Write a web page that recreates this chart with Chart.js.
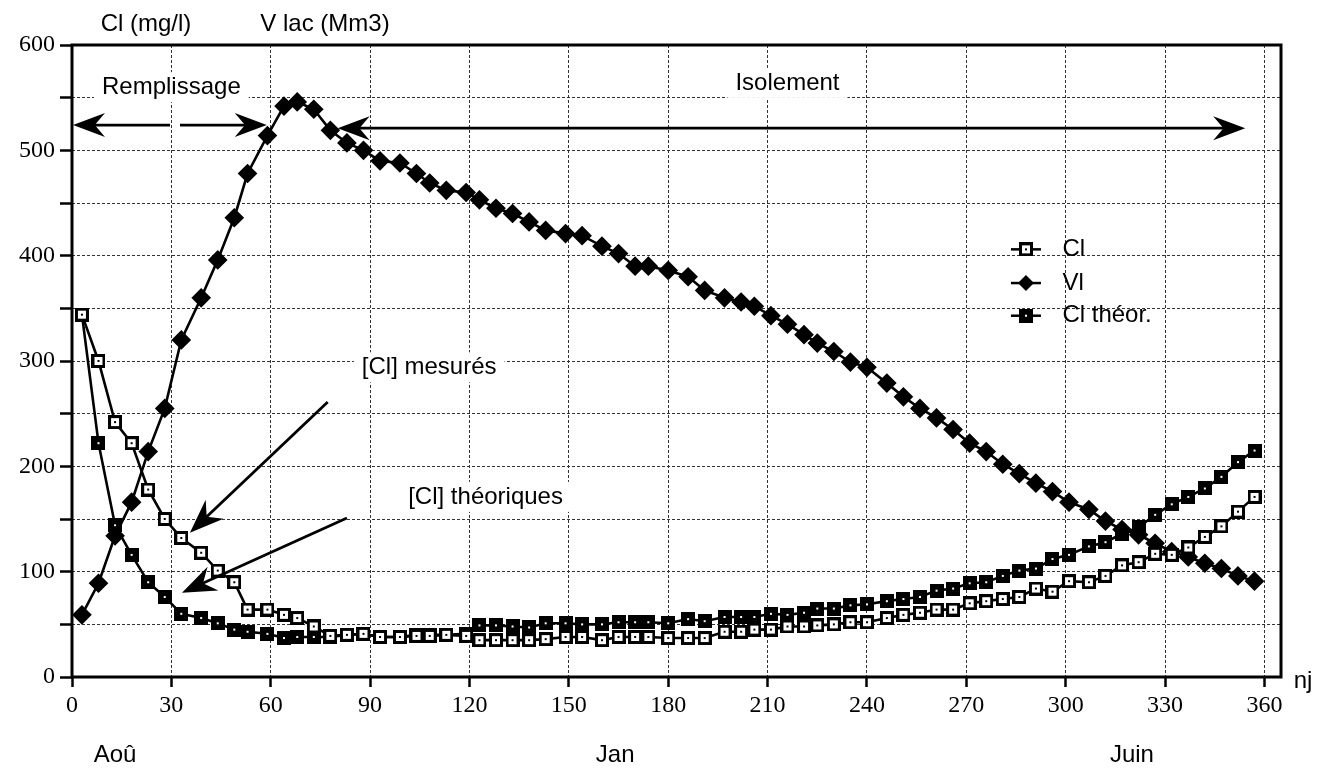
<!DOCTYPE html>
<html>
<head>
<meta charset="utf-8">
<script src="https://cdn.jsdelivr.net/npm/chart.js@4.4.0/dist/chart.umd.min.js"></script>
<style>
  html, body { margin: 0; padding: 0; background: #fff; }
  #wrap { width: 1332px; height: 782px; }
</style>
</head>
<body>
<div id="wrap"><canvas id="lac" width="1332" height="782"></canvas></div>
<script>
// jours depuis le début du remplissage
const days = [3, 8, 13, 18, 23, 28, 33, 39, 44, 49, 53, 59, 64, 68, 73, 78, 83, 88, 93, 99,
  104, 108, 113, 119, 123, 128, 133, 138, 143, 149, 154, 160, 165, 170, 174, 180, 186, 191, 197, 202,
  206, 211, 216, 221, 225, 230, 235, 240, 246, 251, 256, 261, 266, 271, 276, 281, 286, 291, 296, 301,
  307, 312, 317, 322, 327, 332, 337, 342, 347, 352, 357];

// chlorures mesurés (mg/l)
const clMes = [344, 300, 242, 222, 178, 150, 132, 118, 101, 90, 64, 64, 59, 56, 48, 39, 40, 41, 38, 38,
  39, 39, 40, 39, 35, 35, 35, 35, 36, 38, 38, 35, 38, 38, 38, 37, 37, 37, 43, 43,
  45, 45, 48, 48, 49, 50, 52, 52, 56, 59, 61, 64, 64, 70, 72, 74, 76, 84, 81, 91,
  90, 96, 106, 109, 117, 116, 123, 133, 143, 157, 171];

// volume du lac (Mm3)
const vLac = [59, 89, 134, 166, 214, 255, 320, 360, 396, 436, 478, 514, 542, 546, 539, 519, 507, 500, 490, 488,
  478, 469, 462, 460, 453, 445, 440, 432, 424, 421, 419, 409, 402, 390, 390, 386, 380, 367, 360, 356,
  352, 343, 335, 325, 317, 309, 299, 294, 279, 266, 255, 246, 235, 222, 214, 202, 193, 184, 176, 166,
  159, 148, 140, 135, 127, 119, 114, 108, 103, 96, 91];

// chlorures théoriques (mg/l)
const clTheo = [344, 222, 144, 116, 90, 76, 60, 56, 51, 45, 43, 41, 37, 38, 38, 38, 40, 41, 38, 38,
  40, 40, 40, 41, 49, 49, 48, 47, 51, 51, 50, 50, 52, 52, 52, 51, 55, 53, 57, 57,
  57, 60, 59, 61, 65, 65, 68, 69, 72, 74, 76, 82, 84, 89, 90, 96, 101, 103, 112, 116,
  124, 128, 136, 142, 154, 164, 171, 179, 190, 204, 215];

const seriesNames = ['Cl', 'Vl', 'Cl théor.'];
const xTickValues = [0, 30, 60, 90, 120, 150, 180, 210, 240, 270, 300, 330, 360];
const monthNames = ['Aoû', 'Jan', 'Juin'];
const monthDays = [13, 164, 320];

const SANS = '"Liberation Sans", Arial, Helvetica, sans-serif';
const SERIF = '"Liberation Serif", "Times New Roman", serif';

// petits symboles carrés (ouvert / plein) avec point central
function squareMark(filled) {
  const n = 14;
  const c = document.createElement('canvas');
  c.width = n; c.height = n;
  const g = c.getContext('2d');
  if (filled) {
    g.fillStyle = '#000';
    g.fillRect(0, 0, n, n);
    g.fillStyle = '#fff';
    g.fillRect(6, 6, 2, 2);
  } else {
    g.fillStyle = '#fff';
    g.fillRect(0, 0, n, n);
    g.strokeStyle = '#000';
    g.lineWidth = 3;
    g.strokeRect(1.5, 1.5, n - 3, n - 3);
    g.fillStyle = '#000';
    g.fillRect(6, 6, 2, 2);
  }
  return c;
}
const openSq = squareMark(false);
const fullSq = squareMark(true);

function pts(ys) {
  return days.map((d, i) => ({ x: d, y: ys[i] }));
}

function arrowHead(ctx, x, y, ang, len, half) {
  ctx.save();
  ctx.translate(x, y);
  ctx.rotate(ang);
  ctx.beginPath();
  ctx.moveTo(0, 0);
  ctx.lineTo(-len, -half);
  ctx.lineTo(-len * 0.68, 0);
  ctx.lineTo(-len, half);
  ctx.closePath();
  ctx.fill();
  ctx.restore();
}

const decor = {
  id: 'decor',
  beforeDatasetsDraw(chart) {
    const { ctx, scales: { x, y } } = chart;
    ctx.save();
    ctx.font = '24px ' + SANS;
    ctx.textBaseline = 'middle';
    // textes posés sur la grille, fond blanc
    const labels = [
      { t: 'Remplissage', d: 30, v: 560, align: 'center' },
      { t: 'Isolement', d: 216, v: 564, align: 'center' },
      { t: '[Cl] mesurés', d: 87.5, v: 294, align: 'left' },
      { t: '[Cl] théoriques', d: 101.5, v: 171, align: 'left' }
    ];
    labels.forEach(l => {
      const w = ctx.measureText(l.t).width;
      const px = x.getPixelForValue(l.d), py = y.getPixelForValue(l.v);
      const left = l.align === 'center' ? px - w / 2 : px;
      ctx.fillStyle = '#fff';
      ctx.fillRect(left - 8, py - 15, w + 16, 30);
      ctx.fillStyle = '#000';
      ctx.textAlign = 'left';
      ctx.fillText(l.t, left, py);
    });
    ctx.restore();
  },
  afterDatasetsDraw(chart) {
    const { ctx, chartArea: a, scales: { x, y } } = chart;
    ctx.save();
    ctx.strokeStyle = '#000';
    ctx.fillStyle = '#000';
    ctx.lineWidth = 2.8;

    // double flèche : remplissage
    const yR = y.getPixelForValue(524);
    const r0 = x.getPixelForValue(0.3), r1 = x.getPixelForValue(58.8);
    ctx.beginPath();
    ctx.moveTo(r0 + 10, yR); ctx.lineTo(x.getPixelForValue(29.6), yR);
    ctx.moveTo(x.getPixelForValue(32.6), yR); ctx.lineTo(r1 - 10, yR);
    ctx.stroke();
    arrowHead(ctx, r0, yR, Math.PI, 32, 12);
    arrowHead(ctx, r1, yR, 0, 32, 12);

    // double flèche : isolement
    const yI = y.getPixelForValue(521);
    const i0 = x.getPixelForValue(80.2), i1 = x.getPixelForValue(354.2);
    ctx.beginPath();
    ctx.moveTo(i0 + 10, yI); ctx.lineTo(i1 - 10, yI);
    ctx.stroke();
    arrowHead(ctx, i0, yI, Math.PI, 32, 12);
    arrowHead(ctx, i1, yI, 0, 32, 12);

    // flèches obliques vers les courbes
    [[77.2, 261, 35.6, 137], [83, 151, 33.2, 80]].forEach(([d0, v0, d1, v1]) => {
      const ax = x.getPixelForValue(d0), ay = y.getPixelForValue(v0);
      const bx = x.getPixelForValue(d1), by = y.getPixelForValue(v1);
      const ang = Math.atan2(by - ay, bx - ax);
      ctx.beginPath();
      ctx.moveTo(ax, ay);
      ctx.lineTo(bx - 18 * Math.cos(ang), by - 18 * Math.sin(ang));
      ctx.stroke();
      arrowHead(ctx, bx, by, ang, 34, 13);
    });

    // cadre
    ctx.lineWidth = 3;
    ctx.strokeRect(a.left, a.top, a.right - a.left, a.bottom - a.top);

    // légende
    const lx = x.getPixelForValue(288), tx = x.getPixelForValue(299);
    const rows = [406, 374, 343];
    ctx.font = '24px ' + SANS;
    ctx.textBaseline = 'middle';
    ctx.textAlign = 'left';
    chart.data.datasets.forEach((ds, i) => {
      const py = y.getPixelForValue(rows[i]);
      ctx.lineWidth = 2.5;
      ctx.beginPath();
      ctx.moveTo(lx - 15, py); ctx.lineTo(lx + 15, py);
      ctx.stroke();
      if (ds.pointStyle === 'rectRot') {
        ctx.beginPath();
        ctx.moveTo(lx, py - 8); ctx.lineTo(lx + 8, py);
        ctx.lineTo(lx, py + 8); ctx.lineTo(lx - 8, py);
        ctx.closePath(); ctx.fill();
      } else {
        ctx.drawImage(ds.pointStyle, lx - 7, py - 7);
      }
      ctx.fillText(ds.label, tx, py);
    });
    ctx.restore();
  },
  afterDraw(chart) {
    const { ctx, chartArea: a, scales: { x } } = chart;
    ctx.save();
    ctx.fillStyle = '#000';
    ctx.font = '24px ' + SANS;
    ctx.textBaseline = 'middle';
    ctx.textAlign = 'center';
    ctx.fillText('Cl (mg/l)', 146, 24);
    ctx.fillText('V lac (Mm3)', 325, 24);
    ctx.fillText('nj', a.right + 22, a.bottom + 4);
    monthNames.forEach((m, i) => ctx.fillText(m, x.getPixelForValue(monthDays[i]), 755));
    ctx.restore();
  }
};

const common = { borderColor: '#000', borderWidth: 2.6, pointBorderColor: '#000', pointBackgroundColor: '#000' };

new Chart(document.getElementById('lac'), {
  type: 'line',
  data: {
    datasets: [
      Object.assign({ label: seriesNames[0], data: pts(clMes), pointStyle: openSq }, common),
      Object.assign({ label: seriesNames[1], data: pts(vLac), pointStyle: 'rectRot', pointRadius: 8 }, common),
      Object.assign({ label: seriesNames[2], data: pts(clTheo), pointStyle: fullSq }, common)
    ]
  },
  options: {
    responsive: false,
    animation: false,
    layout: { padding: { top: 45, right: 51, left: 0, bottom: 0 } },
    plugins: { legend: { display: false }, tooltip: { enabled: false } },
    elements: { line: { tension: 0 } },
    scales: {
      x: {
        type: 'linear',
        min: 0,
        max: 365,
        afterBuildTicks: s => { s.ticks = xTickValues.map(v => ({ value: v })); },
        afterFit: s => { s.height = 105; },
        grid: { color: '#333', lineWidth: 1, tickLength: 10, tickColor: '#000', tickWidth: 2.5 },
        border: { display: false, dash: [3, 2] },
        ticks: { color: '#000', padding: 4, maxRotation: 0, font: { family: SERIF, size: 24 } }
      },
      y: {
        min: 0,
        max: 600,
        afterFit: s => { s.width = 72; },
        grid: { color: '#333', lineWidth: 1, tickLength: 12, tickColor: '#000', tickWidth: 2.5 },
        border: { display: false, dash: [3, 2] },
        ticks: {
          stepSize: 50,
          color: '#000',
          padding: 5,
          font: { family: SERIF, size: 24 },
          callback: v => (v % 100 === 0 ? String(v) : '')
        }
      }
    }
  },
  plugins: [decor]
});
</script>
</body>
</html>
